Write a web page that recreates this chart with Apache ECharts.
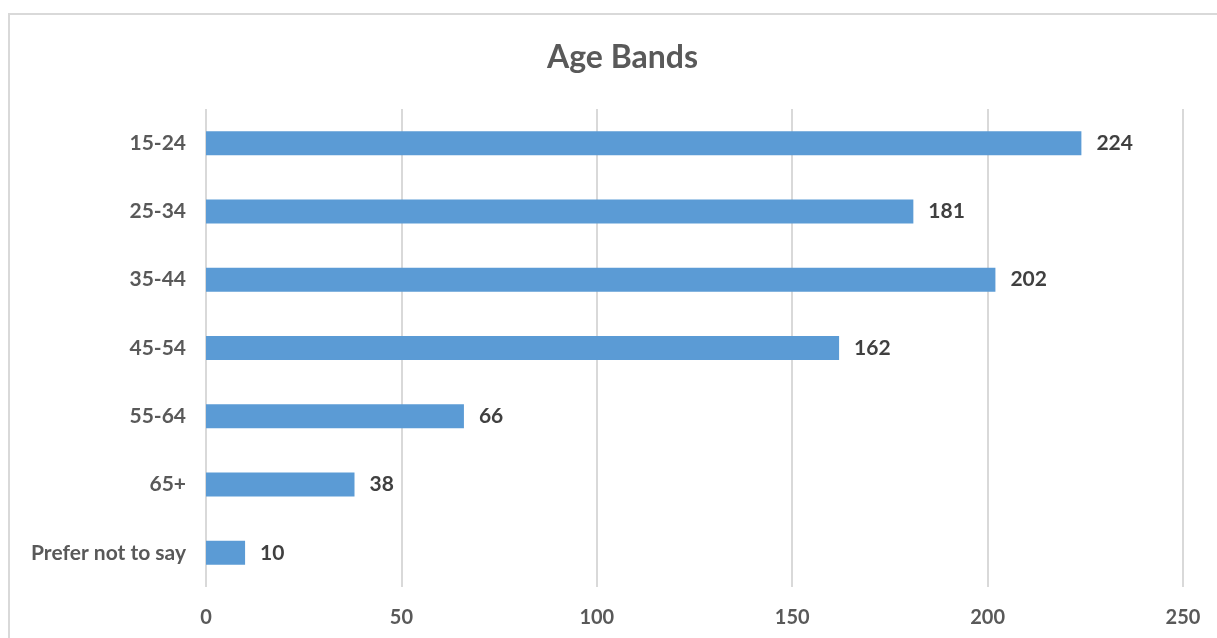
<!DOCTYPE html>
<html><head><meta charset="utf-8">
<script src="https://cdn.jsdelivr.net/npm/echarts@6/dist/echarts.min.js"></script>
<style>html,body{margin:0;padding:0;background:#fff}#c{width:1217px;height:638px}</style>
</head><body><div id="c"></div>
<script>
const categories = ["15-24","25-34","35-44","45-54","55-64","65+","Prefer not to say"];
const values = [224,181,202,162,66,38,10];
const xTicks = [0,50,100,150,200,250];

const chart = echarts.init(document.getElementById('c'));
chart.setOption({
  animation:false,
  backgroundColor:'#fff',
  title:{text:'Age Bands',left:542,top:37,textStyle:{fontFamily:'Lato',fontWeight:'bold',fontSize:32,color:'#595959'}},
  graphic:[{type:'rect',shape:{x:9,y:14,width:1230,height:640},style:{fill:'none',stroke:'#d9d9d9',lineWidth:2},z:-1}],
  grid:{left:206,right:34,top:109,bottom:51},
  xAxis:{type:'value',min:xTicks[0],max:xTicks[xTicks.length-1],interval:50,
    axisLine:{show:false},axisTick:{show:false},
    splitLine:{show:true,lineStyle:{color:'#d9d9d9',width:2}},
    axisLabel:{margin:21,fontFamily:'Lato',fontWeight:'bold',fontSize:20,color:'#595959'}},
  yAxis:{type:'category',data:categories,inverse:true,
    axisLine:{show:false},axisTick:{show:false},
    axisLabel:{margin:20,fontFamily:'Lato',fontWeight:'bold',fontSize:21,color:'#595959'}},
  series:[{type:'bar',data:values,barWidth:24,
    itemStyle:{color:'#5b9bd5'},
    label:{show:true,position:'right',distance:15,fontFamily:'Lato',fontWeight:'bold',fontSize:21,color:'#404040'}}]
});
</script></body></html>
